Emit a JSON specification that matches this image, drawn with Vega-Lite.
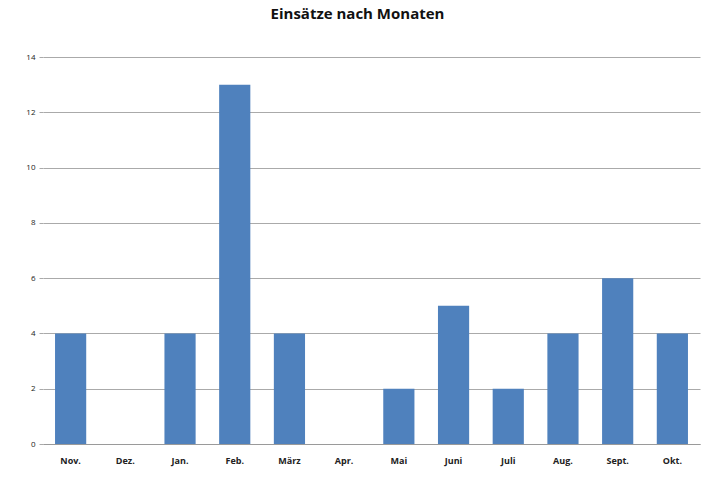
{
  "$schema": "https://vega.github.io/schema/vega-lite/v6.json",
  "autosize": "none",
  "width": 657,
  "height": 387,
  "padding": {"left": 43, "top": 57, "right": 12, "bottom": 36},
  "background": "white",
  "title": {
    "text": "Einsätze nach Monaten",
    "fontSize": 15,
    "font": "Open Sans",
    "fontWeight": "bold",
    "color": "#111111",
    "anchor": "middle",
    "frame": "group",
    "dx": -14,
    "offset": 31
  },
  "data": {
    "values": [
      {"Monat": "Nov.", "Einsaetze": 4},
      {"Monat": "Dez.", "Einsaetze": 0},
      {"Monat": "Jan.", "Einsaetze": 4},
      {"Monat": "Feb.", "Einsaetze": 13},
      {"Monat": "März", "Einsaetze": 4},
      {"Monat": "Apr.", "Einsaetze": 0},
      {"Monat": "Mai", "Einsaetze": 2},
      {"Monat": "Juni", "Einsaetze": 5},
      {"Monat": "Juli", "Einsaetze": 2},
      {"Monat": "Aug.", "Einsaetze": 4},
      {"Monat": "Sept.", "Einsaetze": 6},
      {"Monat": "Okt.", "Einsaetze": 4}
    ]
  },
  "mark": {"type": "bar", "color": "#4f81bd"},
  "encoding": {
    "x": {
      "field": "Monat",
      "type": "nominal",
      "sort": null,
      "title": null,
      "scale": {"paddingInner": 0.43, "paddingOuter": 0.22},
      "axis": {
        "labelAngle": 0,
        "labelFont": "Open Sans",
        "labelFontSize": 9,
        "labelFontWeight": "bold",
        "labelColor": "#222222",
        "labelPadding": 12,
        "ticks": false,
        "domainColor": "#9a9a9a",
        "grid": false
      }
    },
    "y": {
      "field": "Einsaetze",
      "type": "quantitative",
      "title": null,
      "scale": {"domain": [0, 14], "nice": false},
      "axis": {
        "values": [0, 2, 4, 6, 8, 10, 12, 14],
        "labelFont": "Open Sans",
        "labelFontSize": 8,
        "labelColor": "#222222",
        "labelPadding": 4,
        "tickSize": 4,
        "tickColor": "#aaaaaa",
        "gridColor": "#aaaaaa",
        "domain": false
      }
    }
  },
  "config": {"view": {"stroke": null}}
}
